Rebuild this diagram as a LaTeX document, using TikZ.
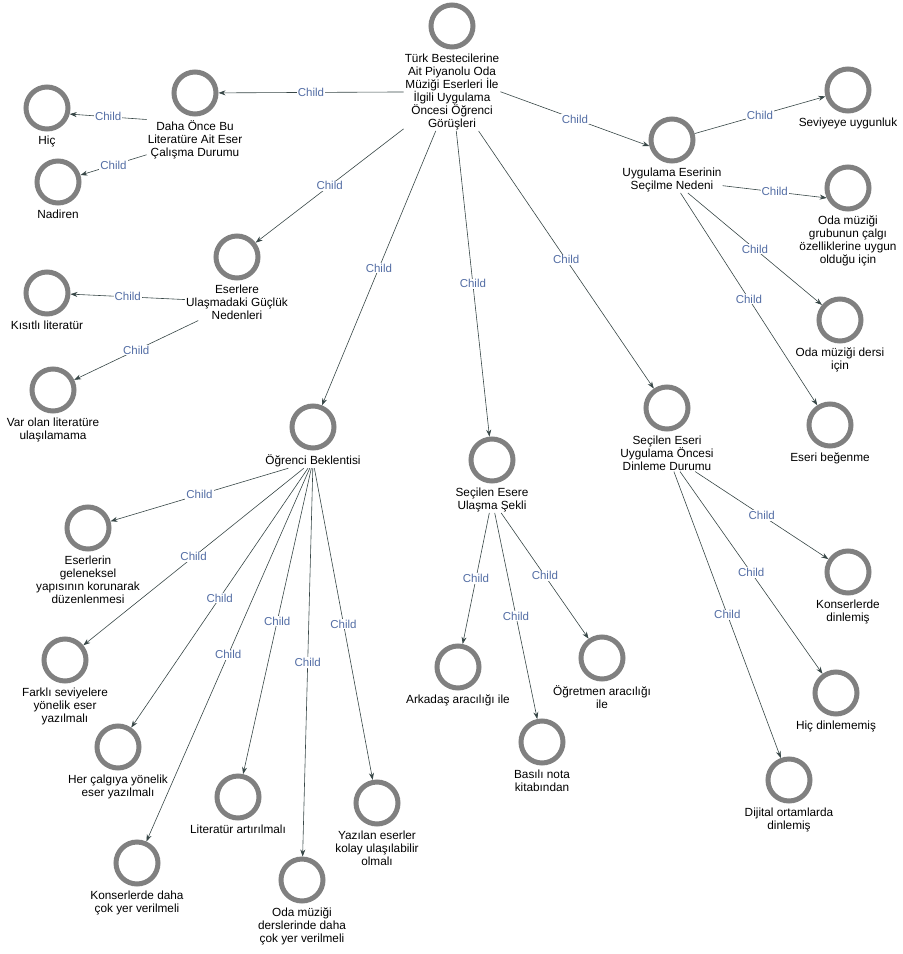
\documentclass[tikz,border=0pt]{standalone}
\usepackage{fontspec}
\setmainfont{Liberation Sans}
\usetikzlibrary{positioning, arrows.meta}

\definecolor{ringgray}{RGB}{128,128,128}
\definecolor{edgecol}{RGB}{55,70,70}
\definecolor{chcol}{RGB}{84,110,165}

\tikzset{
    ring/.style={circle, draw=ringgray, line width=5pt, minimum size=42pt, inner sep=0pt},
    txt/.style={align=center, inner sep=1pt, font=\fontsize{11.8}{13}\selectfont},
    rel/.style={draw=edgecol, line width=0.6pt, -{Stealth[length=7pt, width=5pt]}},
    ch/.style={fill=white, text=chcol, inner sep=1pt, font=\fontsize{11.5}{13}\selectfont}
}

\begin{document}
\begin{tikzpicture}[x=1pt, y=-1pt]
\useasboundingbox (0,0) rectangle (903,954);

\node (root) at (452,26) [ring] {};
\node (roott) [below=3pt of root, txt] {Türk Bestecilerine\\Ait Piyanolu Oda\\Müziği Eserleri İle\\İlgili Uygulama\\Öncesi Öğrenci\\Görüşleri};

\node (daha) at (195,93) [ring] {};
\node (dahat) [below=3pt of daha, txt] {Daha Önce Bu\\Literatüre Ait Eser\\Çalışma Durumu};
\node (hic) at (47,108) [ring] {};
\node (hict) [below=3pt of hic, txt] {Hiç};
\node (nad) at (58,182) [ring] {};
\node (nadt) [below=3pt of nad, txt] {Nadiren};

\node (eser) at (237,257) [ring] {};
\node (esert) [below=3pt of eser, txt] {Eserlere\\Ulaşmadaki Güçlük\\Nedenleri};
\node (kisit) at (47,293) [ring] {};
\node (kisitt) [below=3pt of kisit, txt] {Kısıtlı literatür};
\node (var) at (53,390) [ring] {};
\node (vart) [below=3pt of var, txt] {Var olan literatüre\\ulaşılamama};

\node (ogr) at (313,427) [ring] {};
\node (ogrt) [below=3pt of ogr, txt] {Öğrenci Beklentisi};
\node (gel) at (88,528) [ring] {};
\node (gelt) [below=3pt of gel, txt] {Eserlerin\\geleneksel\\yapısının korunarak\\düzenlenmesi};
\node (farkli) at (65,660) [ring] {};
\node (farklit) [below=3pt of farkli, txt] {Farklı seviyelere\\yönelik eser\\yazılmalı};
\node (her) at (118,747) [ring] {};
\node (hert) [below=3pt of her, txt] {Her çalgıya yönelik\\eser yazılmalı};
\node (konser) at (137,863) [ring] {};
\node (konsert) [below=3pt of konser, txt] {Konserlerde daha\\çok yer verilmeli};
\node (lit) at (238,797) [ring] {};
\node (litt) [below=3pt of lit, txt] {Literatür artırılmalı};
\node (odader) at (302,880) [ring] {};
\node (odadert) [below=3pt of odader, txt] {Oda müziği\\derslerinde daha\\çok yer verilmeli};
\node (yaz) at (377,803) [ring] {};
\node (yazt) [below=3pt of yaz, txt] {Yazılan eserler\\kolay ulaşılabilir\\olmalı};

\node (ses) at (492,460) [ring] {};
\node (sest) [below=3pt of ses, txt] {Seçilen Esere\\Ulaşma Şekli};
\node (ark) at (458,667) [ring] {};
\node (arkt) [below=3pt of ark, txt] {Arkadaş aracılığı ile};
\node (bas) at (542,742) [ring] {};
\node (bast) [below=3pt of bas, txt] {Basılı nota\\kitabından};
\node (ogrm) at (602,658) [ring] {};
\node (ogrmt) [below=3pt of ogrm, txt] {Öğretmen aracılığı\\ile};

\node (sei) at (667,408) [ring] {};
\node (seit) [below=3pt of sei, txt] {Seçilen Eseri\\Uygulama Öncesi\\Dinleme Durumu};
\node (kond) at (848,572) [ring] {};
\node (kondt) [below=3pt of kond, txt] {Konserlerde\\dinlemiş};
\node (hicd) at (836,693) [ring] {};
\node (hicdt) [below=3pt of hicd, txt] {Hiç dinlememiş};
\node (dij) at (789,780) [ring] {};
\node (dijt) [below=3pt of dij, txt] {Dijital ortamlarda\\dinlemiş};

\node (uyg) at (672,140) [ring] {};
\node (uygt) [below=3pt of uyg, txt] {Uygulama Eserinin\\Seçilme Nedeni};
\node (sev) at (848,90) [ring] {};
\node (sevt) [below=3pt of sev, txt] {Seviyeye uygunluk};
\node (odag) at (848,188) [ring] {};
\node (odagt) [below=3pt of odag, txt] {Oda müziği\\grubunun çalgı\\özelliklerine uygun\\olduğu için};
\node (odad) at (840,320) [ring] {};
\node (odadt) [below=3pt of odad, txt] {Oda müziği dersi\\için};
\node (beg) at (830,425) [ring] {};
\node (begt) [below=3pt of beg, txt] {Eseri beğenme};

\draw [rel] (roott) -- node [ch] {Child} (daha);
\draw [rel] (roott) -- node [ch] {Child} (eser);
\draw [rel] (roott) -- node [ch] {Child} (ogr);
\draw [rel] (roott) -- node [ch] {Child} (ses);
\draw [rel] (roott) -- node [ch] {Child} (sei);
\draw [rel] (roott.east) -- node [ch] {Child} (uyg.195);

\draw [rel] (dahat.north west) -- node [ch] {Child} (hic.345);
\draw [rel] (dahat) -- node [ch] {Child} (nad);

\draw [rel] (esert) -- node [ch] {Child} (kisit);
\draw [rel] (esert) -- node [ch] {Child} (var);

\draw [rel] (ogrt) -- node [ch] {Child} (gel);
\draw [rel] (ogrt) -- node [ch] {Child} (farkli);
\draw [rel] (ogrt) -- node [ch] {Child} (her);
\draw [rel] (ogrt) -- node [ch] {Child} (konser);
\draw [rel] (ogrt) -- node [ch] {Child} (lit);
\draw [rel] (ogrt) -- node [ch] {Child} (odader);
\draw [rel] (ogrt) -- node [ch] {Child} (yaz);

\draw [rel] (sest) -- node [ch] {Child} (ark);
\draw [rel] (sest) -- node [ch] {Child} (bas);
\draw [rel] (sest) -- node [ch] {Child} (ogrm);

\draw [rel] (seit) -- node [ch] {Child} (kond);
\draw [rel] (seit) -- node [ch] {Child} (hicd);
\draw [rel] (seit) -- node [ch] {Child} (dij);

\draw [rel] (uyg) -- node [ch] {Child} (sev);
\draw [rel] (uygt) -- node [ch] {Child} (odag.205);
\draw [rel] (uygt) -- node [ch] {Child} (odad);
\draw [rel] (uygt) -- node [ch] {Child} (beg);

\end{tikzpicture}
\end{document}
